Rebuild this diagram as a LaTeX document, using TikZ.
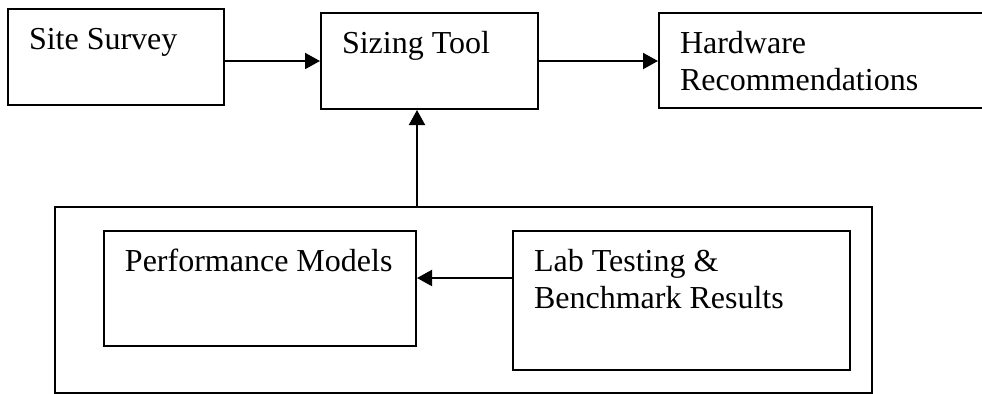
\documentclass[tikz,border=0pt]{standalone}
\usepackage{fontspec}
\setmainfont{Liberation Serif}
\usetikzlibrary{positioning, arrows.meta}
\newcommand{\boxtext}[3]{\parbox[t][#2][t]{#1}{\raggedright\rule{0pt}{20pt}#3}}
\tikzstyle{block} = [draw=black, line width=1pt, rectangle, inner xsep=10.5pt, inner ysep=0pt, font=\fontsize{16}{18.5}\selectfont]
\tikzstyle{group} = [draw=black, line width=1pt, rectangle, inner sep=0pt, minimum width=408.5pt, minimum height=93pt]
\tikzstyle{myarrow} = [->, line width=1pt]

\begin{document}
\begin{tikzpicture}[x=0.5pt, y=-0.5pt, >={Triangle[length=7.5pt, width=8pt]}]
	\useasboundingbox (0,0) rectangle (982,393);
	
	% Top row
	\node[block, anchor=north west] (survey) at (7,8) {\boxtext{87pt}{48pt}{Site Survey}};
	\node[block, right=47.5pt of survey.north east, anchor=north west, yshift=-2pt] (sizing) {\boxtext{87.5pt}{48pt}{Sizing Tool}};
	\node[block, right=59.5pt of sizing.north east, anchor=north west] (hardware) {\boxtext{142pt}{47.5pt}{Hardware\\Recommendations}};
	
	% Group with models and testing
	\node[group, anchor=north west] (outer) at (54,206) {};
	\node[block, anchor=north west] (models) at (103,230) {\boxtext{135pt}{57.5pt}{Performance Models}};
	\node[block, right=47.5pt of models.north east, anchor=north west] (testing) {\boxtext{147.5pt}{69.5pt}{Lab Testing \&\\Benchmark Results}};
	
	% connections
	\draw [myarrow] (survey.east |- sizing.west) -- (sizing.west);
	\draw [myarrow] (sizing.east) -- (sizing.east -| hardware.west);
	\draw [myarrow] (models.east |- outer.north) -- (models.east |- sizing.south);
	\draw [myarrow] ([yshift=-24pt]testing.north west) -- ([yshift=-24pt]models.north east);
	
\end{tikzpicture}
\end{document}
